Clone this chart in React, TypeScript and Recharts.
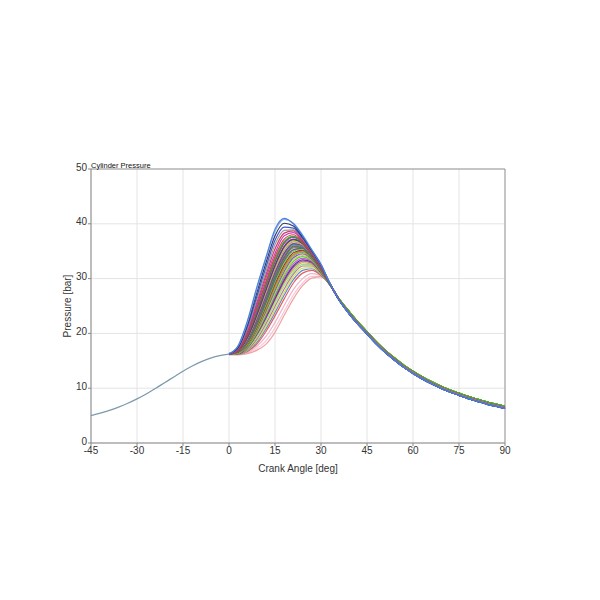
import { LineChart, Line, XAxis, YAxis, CartesianGrid, ReferenceLine } from "recharts";

// shared compression stroke, -45 .. 0 deg
const compressionAngles = [-45, -42, -39, -36, -33, -30, -27, -24, -21, -18, -15, -12, -9, -6, -3, 0];
const compressionPressure = [5.0, 5.45, 5.95, 6.55, 7.25, 8.05, 8.95, 9.95, 11.0, 12.05, 13.1, 14.05, 14.85, 15.5, 15.95, 16.2];

// combustion window, one row per cycle
const combustionAngles = [0, 3, 6, 9, 12, 15, 18, 21, 24, 27, 30, 33];
const cyclePressure = [
  [16.1, 16.1, 16.4, 17.2, 18.6, 21.0, 24.0, 27.0, 29.2, 30.4, 30.4, 28.8],
  [16.1, 16.1, 16.3, 16.9, 18.0, 20.2, 23.3, 26.3, 28.7, 30.1, 30.3, 28.8],
  [16.1, 16.1, 16.5, 17.6, 19.4, 22.0, 25.1, 28.0, 30.0, 30.9, 30.5, 28.8],
  [16.2, 16.2, 16.7, 18.0, 20.3, 23.2, 26.3, 29.2, 31.0, 31.5, 30.6, 28.8],
  [16.2, 16.2, 16.8, 18.3, 20.8, 23.8, 27.0, 29.8, 31.5, 31.8, 30.7, 28.8],
  [16.2, 16.2, 16.9, 18.6, 21.2, 24.3, 27.5, 30.3, 31.9, 32.0, 30.8, 28.8],
  [16.2, 16.2, 17.0, 18.9, 21.7, 24.9, 28.1, 30.8, 32.3, 32.3, 30.9, 28.8],
  [16.2, 16.3, 17.2, 19.3, 22.2, 25.5, 28.7, 31.2, 32.6, 32.5, 31.0, 28.8],
  [16.2, 16.3, 17.3, 19.6, 22.6, 26.0, 29.2, 31.6, 32.9, 32.6, 31.0, 28.8],
  [16.2, 16.3, 17.4, 19.7, 22.8, 26.2, 29.5, 32.0, 33.2, 32.8, 31.1, 28.8],
  [16.2, 16.3, 17.4, 19.8, 22.9, 26.4, 29.8, 32.3, 33.4, 33.0, 31.1, 28.8],
  [16.2, 16.3, 17.5, 19.9, 23.1, 26.7, 30.1, 32.7, 33.7, 33.1, 31.2, 28.8],
  [16.2, 16.4, 17.5, 20.0, 23.4, 27.0, 30.5, 33.1, 34.0, 33.3, 31.2, 28.8],
  [16.2, 16.4, 17.6, 20.2, 23.7, 27.4, 30.9, 33.4, 34.2, 33.4, 31.3, 28.8],
  [16.2, 16.4, 17.7, 20.4, 24.0, 27.8, 31.3, 33.8, 34.5, 33.5, 31.3, 28.9],
  [16.2, 16.4, 17.8, 20.6, 24.3, 28.2, 31.7, 34.1, 34.8, 33.6, 31.4, 28.9],
  [16.2, 16.4, 17.9, 20.7, 24.5, 28.4, 31.9, 34.3, 34.9, 33.7, 31.4, 28.9],
  [16.2, 16.5, 17.9, 20.8, 24.6, 28.6, 32.1, 34.4, 35.0, 33.7, 31.4, 28.9],
  [16.2, 16.5, 18.0, 21.0, 24.9, 29.0, 32.5, 34.7, 35.2, 33.8, 31.5, 28.9],
  [16.2, 16.5, 18.1, 21.2, 25.2, 29.4, 32.9, 35.0, 35.4, 33.8, 31.5, 28.9],
  [16.2, 16.5, 18.2, 21.3, 25.4, 29.6, 33.1, 35.2, 35.5, 33.9, 31.5, 28.9],
  [16.2, 16.6, 18.3, 21.5, 25.6, 29.8, 33.3, 35.3, 35.5, 33.9, 31.6, 28.9],
  [16.2, 16.6, 18.4, 21.7, 25.9, 30.1, 33.6, 35.6, 35.6, 33.9, 31.6, 28.9],
  [16.2, 16.6, 18.4, 21.8, 26.0, 30.3, 33.8, 35.8, 35.7, 34.0, 31.6, 28.9],
  [16.2, 16.6, 18.5, 22.0, 26.3, 30.6, 34.0, 35.9, 35.7, 34.0, 31.6, 28.9],
  [16.2, 16.7, 18.6, 22.2, 26.5, 30.8, 34.3, 36.1, 35.8, 34.0, 31.7, 28.9],
  [16.2, 16.7, 18.7, 22.3, 26.7, 31.0, 34.5, 36.3, 36.0, 34.1, 31.8, 28.9],
  [16.2, 16.7, 18.8, 22.5, 26.9, 31.2, 34.7, 36.4, 36.0, 34.1, 31.8, 28.9],
  [16.2, 16.8, 19.0, 22.8, 27.2, 31.6, 35.1, 36.7, 36.1, 34.2, 31.9, 28.9],
  [16.2, 16.8, 19.1, 23.1, 27.6, 32.0, 35.5, 36.9, 36.3, 34.3, 31.9, 28.9],
  [16.2, 16.8, 19.2, 23.2, 27.8, 32.3, 35.8, 37.1, 36.4, 34.3, 31.9, 28.9],
  [16.2, 16.9, 19.3, 23.4, 28.0, 32.5, 35.9, 37.2, 36.4, 34.4, 32.0, 28.9],
  [16.2, 16.9, 19.5, 23.8, 28.5, 33.0, 36.4, 37.5, 36.5, 34.4, 32.0, 29.0],
  [16.2, 16.9, 19.6, 24.0, 28.8, 33.3, 36.6, 37.6, 36.6, 34.5, 32.1, 29.0],
  [16.2, 17.0, 19.8, 24.2, 29.0, 33.5, 36.8, 37.7, 36.6, 34.5, 32.1, 29.0],
  [16.2, 17.0, 19.9, 24.6, 29.4, 34.0, 37.2, 38.0, 36.7, 34.6, 32.1, 29.0],
  [16.2, 17.1, 20.2, 25.0, 30.0, 34.6, 37.8, 38.4, 36.9, 34.7, 32.2, 29.0],
  [16.2, 17.2, 20.5, 25.5, 30.6, 35.4, 38.3, 38.7, 37.0, 34.8, 32.3, 29.0],
  [16.2, 17.3, 20.8, 26.0, 31.2, 36.2, 38.8, 38.9, 37.2, 34.9, 32.4, 29.0],
  [16.2, 17.4, 21.2, 26.6, 32.0, 37.0, 39.4, 39.2, 37.4, 35.0, 32.4, 29.0],
  [16.3, 17.5, 21.6, 27.3, 32.8, 37.8, 40.1, 39.6, 37.6, 35.1, 32.5, 29.0],
  [16.3, 17.7, 22.0, 27.9, 33.5, 38.6, 40.8, 40.1, 38.0, 35.3, 32.6, 29.0],
  [16.3, 17.8, 22.3, 28.3, 33.8, 39.0, 41.0, 40.0, 37.8, 35.2, 32.6, 29.0],
];
const cycleColors = [
  "#f8c0d0", "#f09898", "#f0a8c0", "#e05050", "#5078d0", "#c8e040", "#b060a0",
  "#90e060", "#b8b850", "#c05080", "#282890", "#d040d0", "#40c040", "#b8d830",
  "#8040c0", "#60a060", "#98d020", "#d07830", "#802838", "#60d030", "#a8a818",
  "#4050d0", "#808020", "#18a040", "#c02870", "#20a0a0", "#e030e0", "#207030",
  "#e070b0", "#b0d020", "#404040", "#6030b0", "#a05830", "#7838a8", "#30b030",
  "#d03030", "#c030b0", "#d02858", "#909090", "#2848c0", "#20205a", "#80aee8",
  "#4078d8",
];
// which expansion tail each cycle follows: 0 low, 1 mid, 2 high
const cycleTail = [
  1, 1, 1, 1, 0, 2, 1, 2, 2, 1, 0, 1, 2, 2, 0, 2, 2, 1, 1, 2, 2,
  0, 2, 2, 1, 1, 1, 2, 1, 2, 1, 0, 1, 0, 2, 1, 1, 1, 1, 0, 0, 0, 0,
];

// expansion stroke, 36 .. 90 deg
const expansionAngles = [36, 39, 42, 45, 48, 51, 54, 57, 60, 63, 66, 69, 72, 75, 78, 81, 84, 87, 90];
const tailLow = [26.0, 23.7, 21.7, 19.9, 18.1, 16.5, 15.1, 13.8, 12.7, 11.7, 10.8, 10.0, 9.3, 8.7, 8.1, 7.6, 7.1, 6.7, 6.3];
const tailMid = [26.1, 23.9, 21.9, 20.1, 18.3, 16.7, 15.3, 14.0, 12.9, 11.9, 11.0, 10.2, 9.5, 8.9, 8.3, 7.8, 7.3, 6.9, 6.5];
const tailHigh = [26.2, 24.1, 22.1, 20.3, 18.5, 16.9, 15.5, 14.2, 13.1, 12.1, 11.2, 10.4, 9.7, 9.1, 8.5, 8.0, 7.5, 7.1, 6.7];
const tails = [tailLow, tailMid, tailHigh];

const xTicks = [-45, -30, -15, 0, 15, 30, 45, 60, 75, 90];
const yTicks = [0, 10, 20, 30, 40, 50];

const allAngles = [...compressionAngles.slice(0, -1), ...combustionAngles, ...expansionAngles];
const rows = allAngles.map((angle) => {
  const row: Record<string, number | null> = { angle };
  const ci = compressionAngles.indexOf(angle);
  const bi = combustionAngles.indexOf(angle);
  const ei = expansionAngles.indexOf(angle);
  row.comp = ci >= 0 ? compressionPressure[ci] : null;
  cyclePressure.forEach((vals, k) => {
    row["c" + k] = bi >= 0 ? vals[bi] : ei >= 0 ? tails[cycleTail[k]][ei] : null;
  });
  return row;
});

const font = "'Liberation Sans', Arial, sans-serif";

export default function App() {
  return (
    <div style={{ position: "relative", width: 584, height: 584, fontFamily: font }}>
      <LineChart
        width={584}
        height={584}
        data={rows}
        margin={{ top: 161, right: 87, left: 0, bottom: 109 }}
      >
        <CartesianGrid stroke="#e4e4e4" />
        <XAxis
          type="number"
          dataKey="angle"
          domain={[-45, 90]}
          ticks={xTicks}
          height={40}
          stroke="#888"
          tickSize={3}
          tickMargin={1}
          tick={{ fontSize: 10, fill: "#333", fontFamily: font }}
          label={{ value: "Crank Angle [deg]", position: "insideBottom", offset: 11, fontSize: 10, fill: "#333", fontFamily: font }}
        />
        <YAxis
          type="number"
          domain={[0, 50]}
          ticks={yTicks}
          width={83}
          stroke="#888"
          tickSize={3}
          tickMargin={1}
          tick={{ fontSize: 10, fill: "#333", fontFamily: font, dy: -2 }}
          label={{ value: "Pressure [bar]", angle: -90, position: "insideLeft", offset: 59, fontSize: 10, fill: "#333", fontFamily: font, style: { textAnchor: "middle" } }}
        />
        <ReferenceLine y={50} stroke="#999" />
        <ReferenceLine x={90} stroke="#999" />
        {cyclePressure.map((_, k) => (
          <Line
            key={k}
            type="monotone"
            dataKey={"c" + k}
            stroke={cycleColors[k]}
            strokeWidth={1.2}
            strokeOpacity={0.9}
            dot={false}
            isAnimationActive={false}
          />
        ))}
        <Line
          type="monotone"
          dataKey="comp"
          stroke="#7d9bae"
          strokeWidth={1.3}
          dot={false}
          isAnimationActive={false}
        />
      </LineChart>
      <div style={{ position: "absolute", left: 83, top: 153, fontSize: 7.5, lineHeight: "9px", color: "#111" }}>
        Cylinder Pressure
      </div>
    </div>
  );
}
